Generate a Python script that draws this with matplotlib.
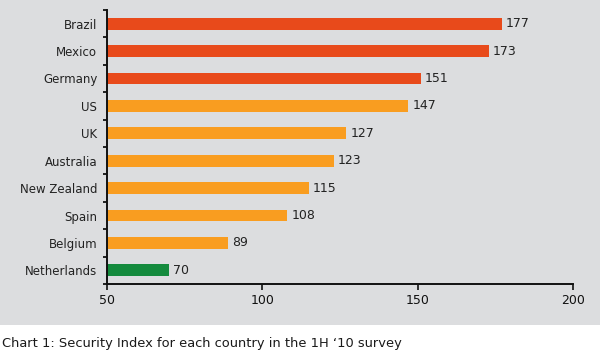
import numpy as np
import matplotlib.pyplot as plt
from matplotlib.patches import Rectangle

# Security Index values per country (top to bottom)
countries = ['Brazil', 'Mexico', 'Germany', 'US', 'UK', 'Australia',
             'New Zealand', 'Spain', 'Belgium', 'Netherlands']
scores = [177, 173, 151, 147, 127, 123, 115, 108, 89, 70]
groups = ['high', 'high', 'high', 'mid', 'mid', 'mid', 'mid', 'mid', 'mid', 'low']
x_ticks = [50, 100, 150, 200]
caption = "Chart 1: Security Index for each country in the 1H \u201810 survey"

palette = {'high': '#E84A1B', 'mid': '#F99D20', 'low': '#148A3D'}
bg = '#DCDDDF'

fig = plt.figure(figsize=(6.0, 3.55), dpi=100)
panel = Rectangle((0, 30 / 355), 1, 1 - 30 / 355, transform=fig.transFigure,
                  facecolor=bg, edgecolor='none', zorder=-10)
fig.add_artist(panel)

ax = fig.add_axes([107 / 600, 1 - 284 / 355, 466 / 600, 274 / 355])
ax.set_facecolor('none')
ax.set_zorder(1)

y = np.arange(len(countries))
base = x_ticks[0]
ax.barh(y, np.array(scores) - base, left=base, height=0.43,
        color=[palette[g] for g in groups])

for yi, v in zip(y, scores):
    ax.text(v + 1.3, yi, str(v), va='center', ha='left', fontsize=9, color='#222222')

ax.set_xlim(50, 200)
ax.set_ylim(len(countries) - 0.5, -0.5)
ax.set_xticks(x_ticks)
ax.tick_params(axis='x', direction='out', length=4, width=1.2, labelsize=9,
               pad=3, colors='#111111')

ax.set_yticks(y)
ax.set_yticklabels(countries, fontsize=8.5, color='#222222')
ax.tick_params(axis='y', which='major', length=0, pad=7)
ax.set_yticks(np.arange(-0.5, len(countries)), minor=True)
ax.tick_params(axis='y', which='minor', direction='out', length=3, width=1.2)

for s in ['top', 'right']:
    ax.spines[s].set_visible(False)
for s in ['left', 'bottom']:
    ax.spines[s].set_linewidth(1.4)
    ax.spines[s].set_color('#111111')

fig.text(2 / 600, 1 - 343 / 355, caption, ha='left', va='center', fontsize=9.4,
         family=['Liberation Sans Narrow', 'DejaVu Sans'], color='#1a1a1a')

fig.savefig('out.png', dpi=100)
